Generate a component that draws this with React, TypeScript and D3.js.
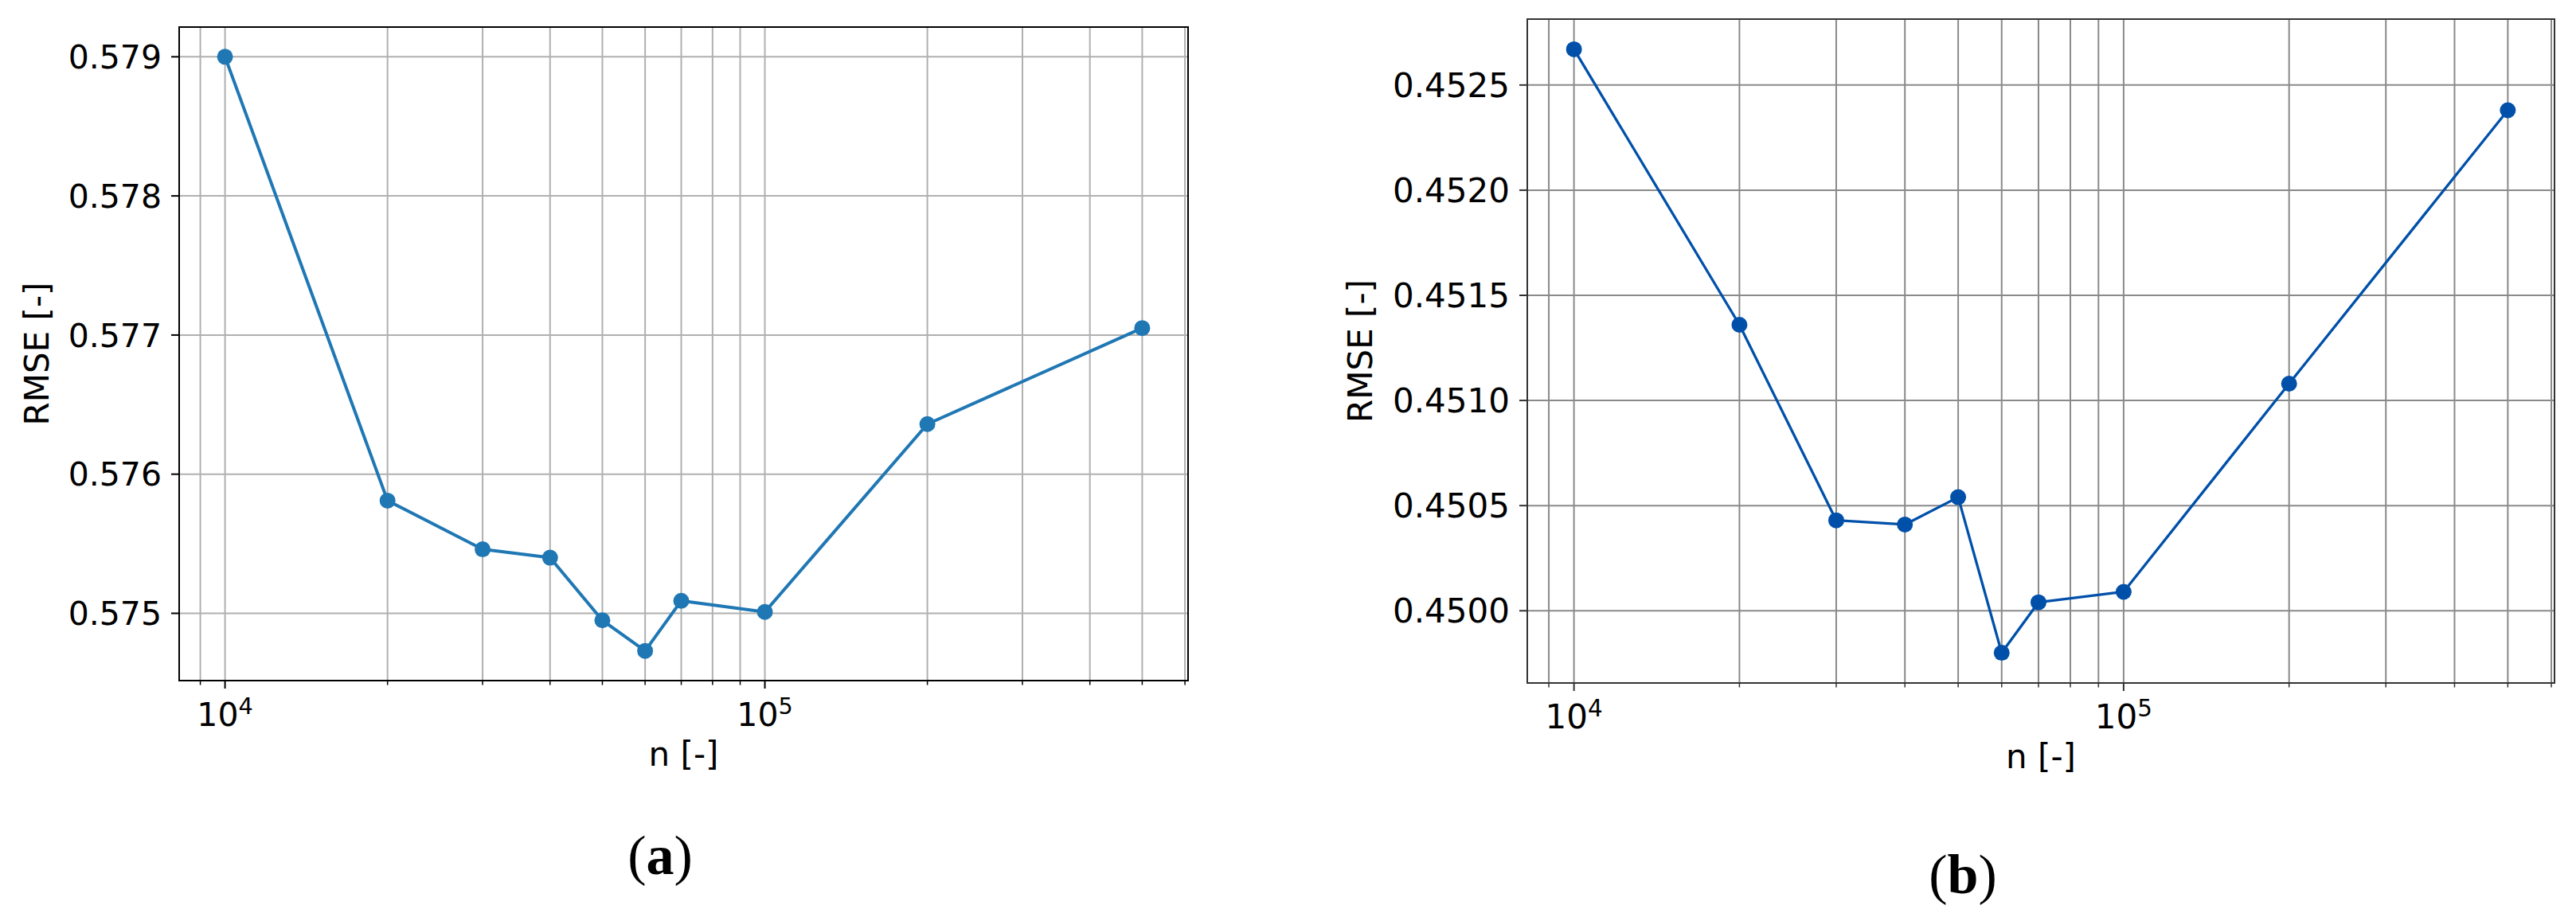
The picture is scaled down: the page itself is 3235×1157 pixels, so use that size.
import * as d3 from "d3";

// sample sizes (x) and the two RMSE series
const nValues = [1e4, 2e4, 3e4, 4e4, 5e4, 6e4, 7e4, 1e5, 2e5, 5e5];
const rmseA = [0.579, 0.57581, 0.57546, 0.5754, 0.57495, 0.57473, 0.57509, 0.57501, 0.57636, 0.57705];
const rmseB = [0.45267, 0.45136, 0.45043, 0.45041, 0.45054, 0.4498, 0.45004, 0.45009, 0.45108, 0.45238];

const yTicksA = [0.575, 0.576, 0.577, 0.578, 0.579];
const yTicksB = [0.45, 0.4505, 0.451, 0.4515, 0.452, 0.4525];
const xMajor = [1e4, 1e5];

const W = 3235;
const H = 1157;

type PanelProps = {
  box: { left: number; right: number; top: number; bottom: number };
  values: number[];
  yTicks: number[];
  yFmt: (v: number) => string;
  yLabelX: number;
  tickSize: number;
  caption: string;
  captionX: number;
  captionY: number;
  color: string;
  grid: string;
  spine: string;
  lineWidth: number;
  r: number;
};

const Panel = ({ box, values, yTicks, yFmt, yLabelX, tickSize, caption, captionX, captionY, color, grid, spine, lineWidth, r }: PanelProps) => {
  // matplotlib-like 5% margins (log space on x)
  const lo = Math.log10(d3.min(nValues)!);
  const hi = Math.log10(d3.max(nValues)!);
  const mx = (hi - lo) * 0.05;
  const x = d3.scaleLog().domain([10 ** (lo - mx), 10 ** (hi + mx)]).range([box.left, box.right]);

  const [ymin, ymax] = d3.extent(values) as [number, number];
  const my = (ymax - ymin) * 0.05;
  const y = d3.scaleLinear().domain([ymin - my, ymax + my]).range([box.bottom, box.top]);

  const allX = x.ticks();
  const minor = allX.filter((t) => !xMajor.some((m) => Math.abs(m - t) < 1e-6));

  const line = d3
    .line<number>()
    .x((d, i) => x(nValues[i]))
    .y((d) => y(d));

  const clipId = "clip" + caption;
  const font = "DejaVu Sans";

  return (
    <g>
      <defs>
        <clipPath id={clipId}>
          <rect x={box.left} y={box.top} width={box.right - box.left} height={box.bottom - box.top} />
        </clipPath>
      </defs>

      {/* grid */}
      <g clipPath={`url(#${clipId})`}>
        {allX.map((t) => (
          <line key={"gx" + t} x1={x(t)} x2={x(t)} y1={box.top} y2={box.bottom} stroke={grid} strokeWidth={2} />
        ))}
        {yTicks.map((t) => (
          <line key={"gy" + t} x1={box.left} x2={box.right} y1={y(t)} y2={y(t)} stroke={grid} strokeWidth={2} />
        ))}
      </g>

      {/* series */}
      <g clipPath={`url(#${clipId})`}>
        <path d={line(values)!} fill="none" stroke={color} strokeWidth={lineWidth} strokeLinejoin="round" />
        {values.map((v, i) => (
          <circle key={i} cx={x(nValues[i])} cy={y(v)} r={r} fill={color} />
        ))}
      </g>

      {/* spines */}
      <rect
        x={box.left}
        y={box.top}
        width={box.right - box.left}
        height={box.bottom - box.top}
        fill="none"
        stroke={spine}
        strokeWidth={2}
      />

      {/* y ticks */}
      {yTicks.map((t) => (
        <g key={"ty" + t}>
          <line x1={box.left - 10} x2={box.left} y1={y(t)} y2={y(t)} stroke={spine} strokeWidth={2} />
          <text x={box.left - 22} y={y(t)} dy="0.36em" textAnchor="end" fontFamily={font} fontSize={tickSize}>
            {yFmt(t)}
          </text>
        </g>
      ))}

      {/* x ticks */}
      {minor.map((t) => (
        <line key={"mx" + t} x1={x(t)} x2={x(t)} y1={box.bottom} y2={box.bottom + 5.5} stroke={spine} strokeWidth={1.5} />
      ))}
      {xMajor.map((t) => (
        <g key={"tx" + t}>
          <line x1={x(t)} x2={x(t)} y1={box.bottom} y2={box.bottom + 10} stroke={spine} strokeWidth={2} />
          <text x={x(t)} y={box.bottom + 57} textAnchor="middle" fontFamily={font} fontSize={tickSize}>
            10
            <tspan fontSize={tickSize * 0.7} dy={-15}>
              {Math.round(Math.log10(t))}
            </tspan>
          </text>
        </g>
      ))}

      {/* axis labels */}
      <text
        x={(box.left + box.right) / 2}
        y={box.bottom + 107}
        textAnchor="middle"
        fontFamily={font}
        fontSize={42}
      >
        n [-]
      </text>
      <text
        transform={`translate(${yLabelX},${(box.top + box.bottom) / 2}) rotate(-90)`}
        textAnchor="middle"
        fontFamily={font}
        fontSize={42}
      >
        RMSE [-]
      </text>

      {/* caption */}
      <text x={captionX} y={captionY} textAnchor="middle" fontFamily="Liberation Serif" fontSize={70}>
        (<tspan fontWeight="bold">{caption}</tspan>)
      </text>
    </g>
  );
};

export default function App() {
  return (
    <svg
      width={W}
      height={H}
      style={{ position: "absolute", left: 0, top: 0, background: "#fff" }}
    >
      <Panel
        box={{ left: 225, right: 1492, top: 34, bottom: 855 }}
        values={rmseA}
        yTicks={yTicksA}
        yFmt={d3.format(".3f")}
        yLabelX={61}
        tickSize={41}
        caption="a"
        captionX={829}
        captionY={1098}
        color="#1f77b4"
        grid="#b0b0b0"
        spine="#000"
        lineWidth={4}
        r={10}
      />
      <Panel
        box={{ left: 1918, right: 3208, top: 24, bottom: 858 }}
        values={rmseB}
        yTicks={yTicksB}
        yFmt={d3.format(".4f")}
        yLabelX={1723}
        tickSize={42}
        caption="b"
        captionX={2465}
        captionY={1122}
        color="#0050aa"
        grid="#8a8a8a"
        spine="#333"
        lineWidth={3.3}
        r={10}
      />
    </svg>
  );
}
